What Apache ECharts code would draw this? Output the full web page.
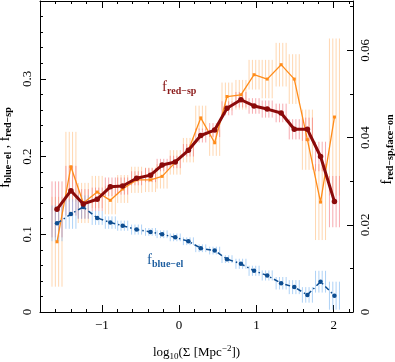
<!DOCTYPE html>
<html>
<head>
<meta charset="utf-8">
<script src="https://cdn.jsdelivr.net/npm/echarts@6/dist/echarts.min.js"></script>
<style>
  html, body { margin: 0; padding: 0; background: #fff; }
  #chart { width: 395px; height: 362px; }
</style>
</head>
<body>
<div id="chart"></div>
<script>
// log10(Sigma) bin centres
const logSigma = [-1.58, -1.40, -1.24, -1.06, -0.89, -0.73, -0.55, -0.37, -0.22, -0.05, 0.12, 0.28, 0.46, 0.62, 0.80, 0.97, 1.14, 1.32, 1.49, 1.66, 1.83, 2.01];

// f_red-sp (left axis)
const fRedSp    = [0.132, 0.156, 0.139, 0.145, 0.161, 0.162, 0.172, 0.176, 0.189, 0.193, 0.208, 0.227, 0.234, 0.262, 0.273, 0.265, 0.261, 0.256, 0.235, 0.235, 0.200, 0.142];
const fRedSpErr = [0.036, 0.032, 0.019, 0.015, 0.012, 0.011, 0.009, 0.009, 0.008, 0.008, 0.008, 0.009, 0.009, 0.009, 0.010, 0.010, 0.011, 0.012, 0.013, 0.015, 0.019, 0.033];

// f_red-sp,face-on (right axis)
const fFaceOn    = [0.0161, 0.0333, 0.0250, 0.0275, 0.0256, 0.0282, 0.0303, 0.0303, 0.0311, 0.0343, 0.0371, 0.0445, 0.0388, 0.0494, 0.0498, 0.0544, 0.0534, 0.0567, 0.0534, 0.0395, 0.0252, 0.0447];
const fFaceOnErr = [0.0103, 0.0080, 0.0046, 0.0037, 0.0032, 0.0032, 0.0030, 0.0028, 0.0028, 0.0028, 0.0028, 0.0028, 0.0030, 0.0032, 0.0034, 0.0034, 0.0044, 0.0050, 0.0057, 0.0069, 0.0087, 0.0180];

// f_blue-el (left axis)
const fBlueEl    = [0.114, 0.126, 0.135, 0.121, 0.115, 0.111, 0.106, 0.103, 0.100, 0.096, 0.091, 0.082, 0.079, 0.068, 0.062, 0.053, 0.047, 0.037, 0.032, 0.022, 0.039, 0.021];
const fBlueElErr = [0.023, 0.019, 0.015, 0.009, 0.008, 0.0065, 0.0065, 0.005, 0.005, 0.005, 0.005, 0.005, 0.005, 0.005, 0.0065, 0.0065, 0.0065, 0.008, 0.009, 0.010, 0.014, 0.018];

const xMajor = [-1, 0, 1, 2];
const xMinor = [-1.6, -1.4, -1.2, -0.8, -0.6, -0.4, -0.2, 0.2, 0.4, 0.6, 0.8, 1.2, 1.4, 1.6, 1.8, 2.2];

const SERIF = '"Liberation Serif", "DejaVu Serif", serif';

const pairs = (ys) => logSigma.map((x, i) => [x, ys[i]]);
const errs = (ys, es) => logSigma.map((x, i) => [x, ys[i] - es[i], ys[i] + es[i]]);

// error bars drawn as a small hatch of vertical strokes across the bin
function hatchRenderer(color, width) {
  return function (params, api) {
    const x = api.value(0);
    const lo = api.coord([x, api.value(1)]);
    const hi = api.coord([x, api.value(2)]);
    const offs = [-5, -1.65, 1.65, 5];
    return {
      type: 'group',
      children: offs.map(o => ({
        type: 'line',
        shape: { x1: lo[0] + o, y1: lo[1], x2: hi[0] + o, y2: hi[1] },
        style: { stroke: color, lineWidth: width },
      })),
    };
  };
}

const chart = echarts.init(document.getElementById('chart'));

const baseX = {
  type: 'value', min: -1.8, max: 2.25,
  splitLine: { show: false },
};

chart.setOption({
  animation: false,
  grid: { left: 40, right: 42, top: 1, bottom: 50, containLabel: false, outerBoundsMode: 'none' },
  xAxis: [
    Object.assign({}, baseX, {
      position: 'bottom',
      axisLine: { onZero: false, lineStyle: { color: '#000', width: 1 } },
      axisTick: { inside: true, length: 7, customValues: xMajor, lineStyle: { color: '#000' } },
      axisLabel: {
        customValues: xMajor, margin: 7, color: '#000', fontFamily: SERIF, fontSize: 13,
        formatter: v => String(Math.round(v)).replace('-', '\u2212'),
      },
      name: 'log{sub|10}(\u03A3 [Mpc{sup|\u22122}])',
      nameLocation: 'middle', nameGap: 32,
      nameTextStyle: {
        color: '#000', fontFamily: SERIF, fontSize: 13,
        rich: {
          sub: { fontFamily: SERIF, fontSize: 9, padding: [8, 0, 0, 0] },
          sup: { fontFamily: SERIF, fontSize: 9, padding: [0, 0, 7, 0] },
        },
      },
    }),
    Object.assign({}, baseX, {
      position: 'bottom',
      axisLine: { show: false, onZero: false },
      axisTick: { inside: true, length: 3, customValues: xMinor, lineStyle: { color: '#000' } },
      axisLabel: { show: false },
    }),
    Object.assign({}, baseX, {
      position: 'top',
      axisLine: { onZero: false, lineStyle: { color: '#000', width: 1 } },
      axisTick: { inside: true, length: 7, customValues: xMajor, lineStyle: { color: '#000' } },
      axisLabel: { show: false },
    }),
    Object.assign({}, baseX, {
      position: 'top',
      axisLine: { show: false, onZero: false },
      axisTick: { inside: true, length: 3, customValues: xMinor, lineStyle: { color: '#000' } },
      axisLabel: { show: false },
    }),
  ],
  yAxis: [
    {
      type: 'value', min: 0, max: 0.4, interval: 0.1, position: 'left',
      splitLine: { show: false },
      axisLine: { show: true, onZero: false, lineStyle: { color: '#000', width: 1 } },
      axisTick: { inside: true, length: 6, lineStyle: { color: '#000' } },
      minorTick: { show: true, splitNumber: 5, length: 3, lineStyle: { color: '#000' } },
      axisLabel: {
        rotate: 90, margin: 6, color: '#000', fontFamily: SERIF, fontSize: 13,
        showMaxLabel: false, formatter: v => (v === 0 ? '0' : String(+v.toFixed(1))),
      },
      name: 'f{sub|blue\u2212el} , f{sub|red\u2212sp}',
      nameLocation: 'middle', nameGap: 22, nameRotate: 90,
      nameTextStyle: {
        color: '#000', fontFamily: SERIF, fontSize: 14, padding: [0, 0, 0, 18],
        rich: { sub: { fontFamily: SERIF, fontSize: 10, fontWeight: 'bold', padding: [6, 0, 0, 0] } },
      },
    },
    {
      type: 'value', min: 0, max: 0.0713, interval: 0.02, position: 'right',
      splitLine: { show: false },
      axisLine: { show: true, onZero: false, lineStyle: { color: '#000', width: 1 } },
      axisTick: { inside: true, length: 6, lineStyle: { color: '#000' } },
      minorTick: { show: true, splitNumber: 2, length: 3, lineStyle: { color: '#000' } },
      axisLabel: {
        rotate: 90, margin: 6, color: '#000', fontFamily: SERIF, fontSize: 13,
        showMaxLabel: false, formatter: v => (v === 0 ? '0' : String(+v.toFixed(2))),
      },
      name: 'f{sub|red\u2212sp,face\u2212on}',
      nameLocation: 'middle', nameGap: 26, nameRotate: 90,
      nameTextStyle: {
        color: '#000', fontFamily: SERIF, fontSize: 14, padding: [0, 0, 0, 14],
        rich: { sub: { fontFamily: SERIF, fontSize: 10, fontWeight: 'bold', padding: [6, 0, 0, 0] } },
      },
    },
  ],
  series: [
    {
      name: 'faceOnErr', type: 'custom', yAxisIndex: 1, z: 1,
      renderItem: hatchRenderer('rgba(255,175,100,0.5)', 1),
      data: errs(fFaceOn, fFaceOnErr),
    },
    {
      name: 'redSpErr', type: 'custom', yAxisIndex: 0, z: 2,
      renderItem: hatchRenderer('rgba(240,100,110,0.55)', 1),
      data: errs(fRedSp, fRedSpErr),
    },
    {
      name: 'blueElErr', type: 'custom', yAxisIndex: 0, z: 2,
      renderItem: hatchRenderer('rgba(120,180,240,0.6)', 1),
      data: errs(fBlueEl, fBlueElErr),
    },
    {
      name: 'faceOn', type: 'line', yAxisIndex: 1, z: 3,
      symbol: 'rect', symbolSize: 3,
      lineStyle: { color: '#ff8c1a', width: 1.3 },
      itemStyle: { color: '#ff8c1a' },
      data: pairs(fFaceOn),
    },
    {
      name: 'blueEl', type: 'line', yAxisIndex: 0, z: 4,
      symbol: 'circle', symbolSize: 4.5,
      lineStyle: { color: '#0d4d91', width: 1.5, type: [5, 3, 1.5, 3] },
      itemStyle: { color: '#0d4d91' },
      data: pairs(fBlueEl),
    },
    {
      name: 'redSp', type: 'line', yAxisIndex: 0, z: 5,
      symbol: 'circle', symbolSize: 5.5,
      lineStyle: { color: '#8b0a0a', width: 3 },
      itemStyle: { color: '#8b0a0a' },
      data: pairs(fRedSp),
    },
  ],
  graphic: [
    {
      type: 'text', left: 162, top: 80, z: 10,
      style: {
        text: 'f{sub|red\u2212sp}', fill: '#8b1a1a', fontFamily: SERIF, fontSize: 15,
        rich: { sub: { fill: '#8b1a1a', fontFamily: SERIF, fontSize: 10, fontWeight: 'bold', padding: [7, 0, 0, 0] } },
      },
    },
    {
      type: 'text', left: 147, top: 253, z: 10,
      style: {
        text: 'f{sub|blue\u2212el}', fill: '#1f5fa0', fontFamily: SERIF, fontSize: 15,
        rich: { sub: { fill: '#1f5fa0', fontFamily: SERIF, fontSize: 10, fontWeight: 'bold', padding: [7, 0, 0, 0] } },
      },
    },
  ],
});

window.addEventListener('resize', () => chart.resize());
</script>
</body>
</html>
